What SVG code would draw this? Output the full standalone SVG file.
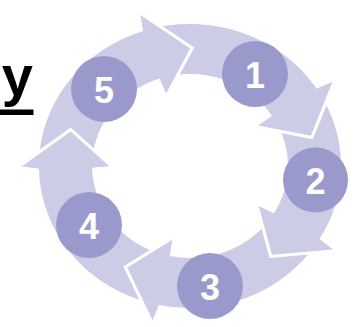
<svg xmlns="http://www.w3.org/2000/svg" width="354" height="327" viewBox="0 0 354 327">
<style>
.band{fill:#CCCCE6;stroke:none}
.edge{fill:none;stroke:#FFFFFF;stroke-width:3;stroke-linejoin:miter}
.dot{fill:#9999CC}
.num{font-family:"Liberation Sans",Arial,sans-serif;font-weight:bold;font-size:36px;fill:#FFFFFF;text-anchor:middle}
.title{font-family:"Liberation Sans",Arial,sans-serif;font-weight:bold;font-size:56px;fill:#000000;text-anchor:end}
</style>
<rect width="354" height="327" fill="#FFFFFF"/>
<g id="title">
<text class="title" x="33" y="95">y</text>
<rect x="0" y="109.5" width="33.5" height="5.5" fill="#000000"/>
</g>
<g id="connectors" transform="translate(190,166) scale(1.064,1)">
<g id="bodies">
<path class="band" d="M-39.1,-136.5 A142,142 0 0 1 119.1,-77.3 L135.7,-84.8 L114.5,-28.5 L62.8,-39.2 L77.2,-50.1 A92,92 0 0 0 -25.4,-88.4 Z"/>
<path class="band" d="M121.7,-73.1 A142,142 0 0 1 121.7,73.1 L135.7,84.8 L75.9,90.4 L62.8,39.2 L78.9,47.4 A92,92 0 0 0 78.9,-47.4 Z"/>
<path class="band" d="M119.1,77.3 A142,142 0 0 1 -29.5,138.9 L-36.0,155.9 L-60.8,101.1 L-16.65,72.1 L-19.1,90.0 A92,92 0 0 0 77.2,50.1 Z"/>
<path class="band" d="M-34.4,137.8 A142,142 0 0 1 -142.0,2.5 L-160,0 L-112.2,-36.5 L-74,0 L-92.0,1.6 A92,92 0 0 0 -22.3,89.3 Z"/>
<path class="band" d="M-142.0,-2.5 A142,142 0 0 1 -43.9,-135.1 L-46.8,-153.0 L2.1,-118.0 L-21.6,-70.8 L-28.4,-87.5 A92,92 0 0 0 -92.0,-1.6 Z"/>
</g>
<g id="heads">
<polygon class="band" points="119.1,-77.3 135.7,-84.8 114.5,-28.5 62.8,-39.2 77.2,-50.1"/>
<polyline class="edge" points="135.7,-84.8 114.5,-28.5 62.8,-39.2"/>
<polygon class="band" points="121.7,73.1 135.7,84.8 75.9,90.4 62.8,39.2 78.9,47.4"/>
<polyline class="edge" points="135.7,84.8 75.9,90.4 62.8,39.2"/>
<polygon class="band" points="-29.5,138.9 -36.0,155.9 -60.8,101.1 -16.65,72.1 -19.1,90.0"/>
<polyline class="edge" points="-36.0,155.9 -60.8,101.1 -16.65,72.1"/>
<polygon class="band" points="-142.0,2.5 -160,0 -112.2,-36.5 -74,0 -92.0,1.6"/>
<polyline class="edge" points="-160,0 -112.2,-36.5 -74,0"/>
<polygon class="band" points="-43.9,-135.1 -46.8,-153.0 2.1,-118.0 -21.6,-70.8 -28.4,-87.5"/>
<polyline class="edge" points="-46.8,-153.0 2.1,-118.0 -21.6,-70.8"/>
</g>
</g>
<g id="node1"><circle class="dot" cx="255" cy="74" r="33"/><text class="num" x="255" y="88">1</text></g>
<g id="node2"><circle class="dot" cx="315.5" cy="180" r="32.5"/><text class="num" x="315.5" y="194">2</text></g>
<g id="node3"><circle class="dot" cx="210" cy="286" r="33"/><text class="num" x="210" y="300">3</text></g>
<g id="node4"><circle class="dot" cx="89" cy="225" r="33"/><text class="num" x="89" y="239">4</text></g>
<g id="node5"><circle class="dot" cx="104" cy="89" r="33"/><text class="num" x="104" y="103">5</text></g>
</svg>
